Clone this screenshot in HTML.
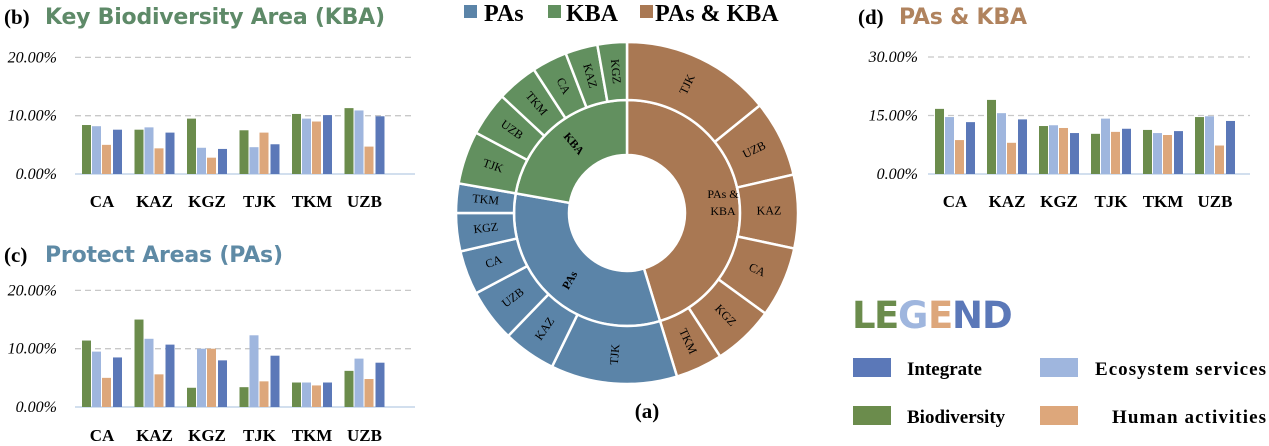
<!DOCTYPE html>
<html><head><meta charset="utf-8"><style>
html,body{margin:0;padding:0;background:#fff;width:1269px;height:446px;overflow:hidden}
svg{display:block}
</style></head><body>
<svg id="s" width="1269" height="446" xmlns="http://www.w3.org/2000/svg" font-family="Liberation Serif, serif"></svg>
<script>
const s=document.getElementById('s');let h='';
const G='#6b8c4c',LB='#9fb6de',OR='#dda77b',BL='#5b78b8';
const cats=['CA','KAZ','KGZ','TJK','TKM','UZB'];
function bars(x0,step,y0,ppu,ticks,tickLbl,gl,gr,data,labY,lblX){
  ticks.forEach((t,i)=>{const y=y0-t*ppu;
    if(i>0)h+=`<line x1="${gl}" x2="${gr}" y1="${y}" y2="${y}" stroke="#c8c8c8" stroke-width="1.3" stroke-dasharray="6,4"/>`;
    h+=`<text x="${lblX}" y="${y+5}" text-anchor="end" font-style="italic" font-size="16">${tickLbl[i]}</text>`;});
  h+=`<line x1="${gl}" x2="${gr}" y1="${y0}" y2="${y0}" stroke="#b8cce4" stroke-width="1.2"/>`;
  data.forEach((d,i)=>{const cx=x0+i*step;const cols=[G,LB,OR,BL];
    d.forEach((v,j)=>{const x=cx-20+j*10+(j==3?1:0);const hh=v*ppu;
      h+=`<rect x="${x}" y="${y0-hh}" width="9" height="${hh}" fill="${cols[j]}"/>`;});
    h+=`<text x="${cx}" y="${labY}" text-anchor="middle" font-weight="bold" font-size="17">${cats[i]}</text>`;});
}
h+=`<text x="4" y="24" font-size="21" font-weight="bold">(b)</text><text x="45" y="24" font-family="DejaVu Sans, sans-serif" font-size="22" font-weight="bold" fill="#5e8a68" textLength="340">Key Biodiversity Area (KBA)</text>`;
h+=`<text x="4" y="262" font-size="21" font-weight="bold">(c)</text><text x="45" y="262" font-family="DejaVu Sans, sans-serif" font-size="22" font-weight="bold" fill="#5e8aa5" textLength="238">Protect Areas (PAs)</text>`;
h+=`<text x="858" y="24" font-size="21" font-weight="bold">(d)</text><text x="899" y="24" font-family="DejaVu Sans, sans-serif" font-size="22" font-weight="bold" fill="#b0835e" textLength="128">PAs &amp; KBA</text>`;
bars(102,52.5,174,5.83,[0,10,20],['0.00%','10.00%','20.00%'],75,415,
 [[8.4,8.2,5.0,7.6],[7.6,8.0,4.4,7.1],[9.5,4.5,2.8,4.3],[7.5,4.6,7.1,5.1],[10.3,9.5,9.0,10.1],[11.3,10.9,4.7,9.9]],207,57);
bars(102,52.5,407,5.83,[0,10,20],['0.00%','10.00%','20.00%'],75,415,
 [[11.4,9.5,5.0,8.5],[15.0,11.7,5.6,10.7],[3.3,10.0,10.0,8.0],[3.4,12.3,4.4,8.8],[4.2,4.2,3.7,4.2],[6.2,8.3,4.8,7.6]],441,57);
bars(955,52,174,3.9,[0,15,30],['0.00%','15.00%','30.00%'],928,1250,
 [[16.7,14.6,8.7,13.3],[19,15.6,8.0,14],[12.3,12.5,11.8,10.5],[10.3,14.2,10.8,11.6],[11.3,10.5,10.0,11.0],[14.6,14.8,7.3,13.6]],207,918);
const cx=627,cy=213,R0=58,R1=113,R2=171;
function pt(r,a){a=a*Math.PI/180;return [cx+r*Math.sin(a),cy-r*Math.cos(a)];}
function seg(r1,r2,a1,a2,fill){const p1=pt(r2,a1),p2=pt(r2,a2),p3=pt(r1,a2),p4=pt(r1,a1);const l=(a2-a1)>180?1:0;
 h+=`<path d="M${p1} A${r2},${r2} 0 ${l} 1 ${p2} L${p3} A${r1},${r1} 0 ${l} 0 ${p4}Z" fill="${fill}" stroke="#fff" stroke-width="2.5"/>`;}
const PK='#a97853',PA='#5b84a8',KB='#62905f';
seg(R0,R1,0,163,PK);seg(R0,R1,163,280,PA);seg(R0,R1,280,360,KB);
const outer=[[0,51,'TJK',PK],[51,77,'UZB',PK],[77,102,'KAZ',PK],[102,126,'CA',PK],[126,147,'KGZ',PK],[147,163,'TKM',PK],
[163,206,'TJK',PA],[206,224,'KAZ',PA],[224,242,'UZB',PA],[242,257,'CA',PA],[257,270,'KGZ',PA],[270,280,'TKM',PA],
[280,298,'TJK',KB],[298,313,'UZB',KB],[313,327,'TKM',KB],[327,339,'CA',KB],[339,350,'KAZ',KB],[350,360,'KGZ',KB]];
outer.forEach(o=>seg(R1,R2,o[0],o[1],o[3]));
outer.forEach(o=>{const m=(o[0]+o[1])/2;const p=pt(142,m);
 let rot=m<180?m-90:m+90;
 h+=`<text x="${p[0]}" y="${p[1]}" transform="rotate(${rot} ${p[0]} ${p[1]})" text-anchor="middle" dominant-baseline="middle" font-size="12">${o[2]}</text>`;});
h+=`<text x="723" y="198" text-anchor="middle" font-size="12">PAs &amp;</text><text x="723" y="215" text-anchor="middle" font-size="12">KBA</text>`;
h+=`<text x="571" y="146" transform="rotate(50 571 146)" text-anchor="middle" font-size="11.5" font-weight="bold">KBA</text>`;
h+=`<text x="573" y="282" transform="rotate(-60 573 282)" text-anchor="middle" font-size="11.5" font-weight="bold">PAs</text>`;
h+=`<text x="647" y="418" text-anchor="middle" font-size="21" font-weight="bold">(a)</text>`;
h+=`<rect x="464" y="5" width="13" height="13" fill="${PA}"/><text x="484" y="21" font-size="24" font-weight="bold">PAs</text>`;
h+=`<rect x="548" y="5" width="13" height="13" fill="${KB}"/><text x="566" y="21" font-size="24" font-weight="bold">KBA</text>`;
h+=`<rect x="640" y="5" width="13" height="13" fill="${PK}"/><text x="655" y="21" font-size="24" font-weight="bold">PAs &amp; KBA</text>`;
const L=[['L',G],['E',G],['G',LB],['E',OR],['N',BL],['D',BL]];let lx=852;
L.forEach(c=>{h+=`<text x="${lx}" y="328" font-family="DejaVu Sans, sans-serif" font-weight="bold" font-size="37" fill="${c[1]}">${c[0]}</text>`;lx+=c[0]=='L'?22:(c[0]=='N'||c[0]=='D'||c[0]=='G'?30:24);});
h+=`<rect x="853" y="358" width="38" height="19" fill="${BL}"/><text x="907" y="375" font-size="19" font-weight="bold">Integrate</text>`;
h+=`<rect x="1040" y="358" width="38" height="19" fill="${LB}"/><text x="1095" y="375" font-size="19" font-weight="bold" textLength="171">Ecosystem services</text>`;
h+=`<rect x="853" y="406" width="38" height="19" fill="${G}"/><text x="907" y="423" font-size="19" font-weight="bold">Biodiversity</text>`;
h+=`<rect x="1040" y="406" width="38" height="19" fill="${OR}"/><text x="1112" y="423" font-size="19" font-weight="bold" textLength="154">Human activities</text>`;
s.innerHTML=h;
</script>
</body></html>
